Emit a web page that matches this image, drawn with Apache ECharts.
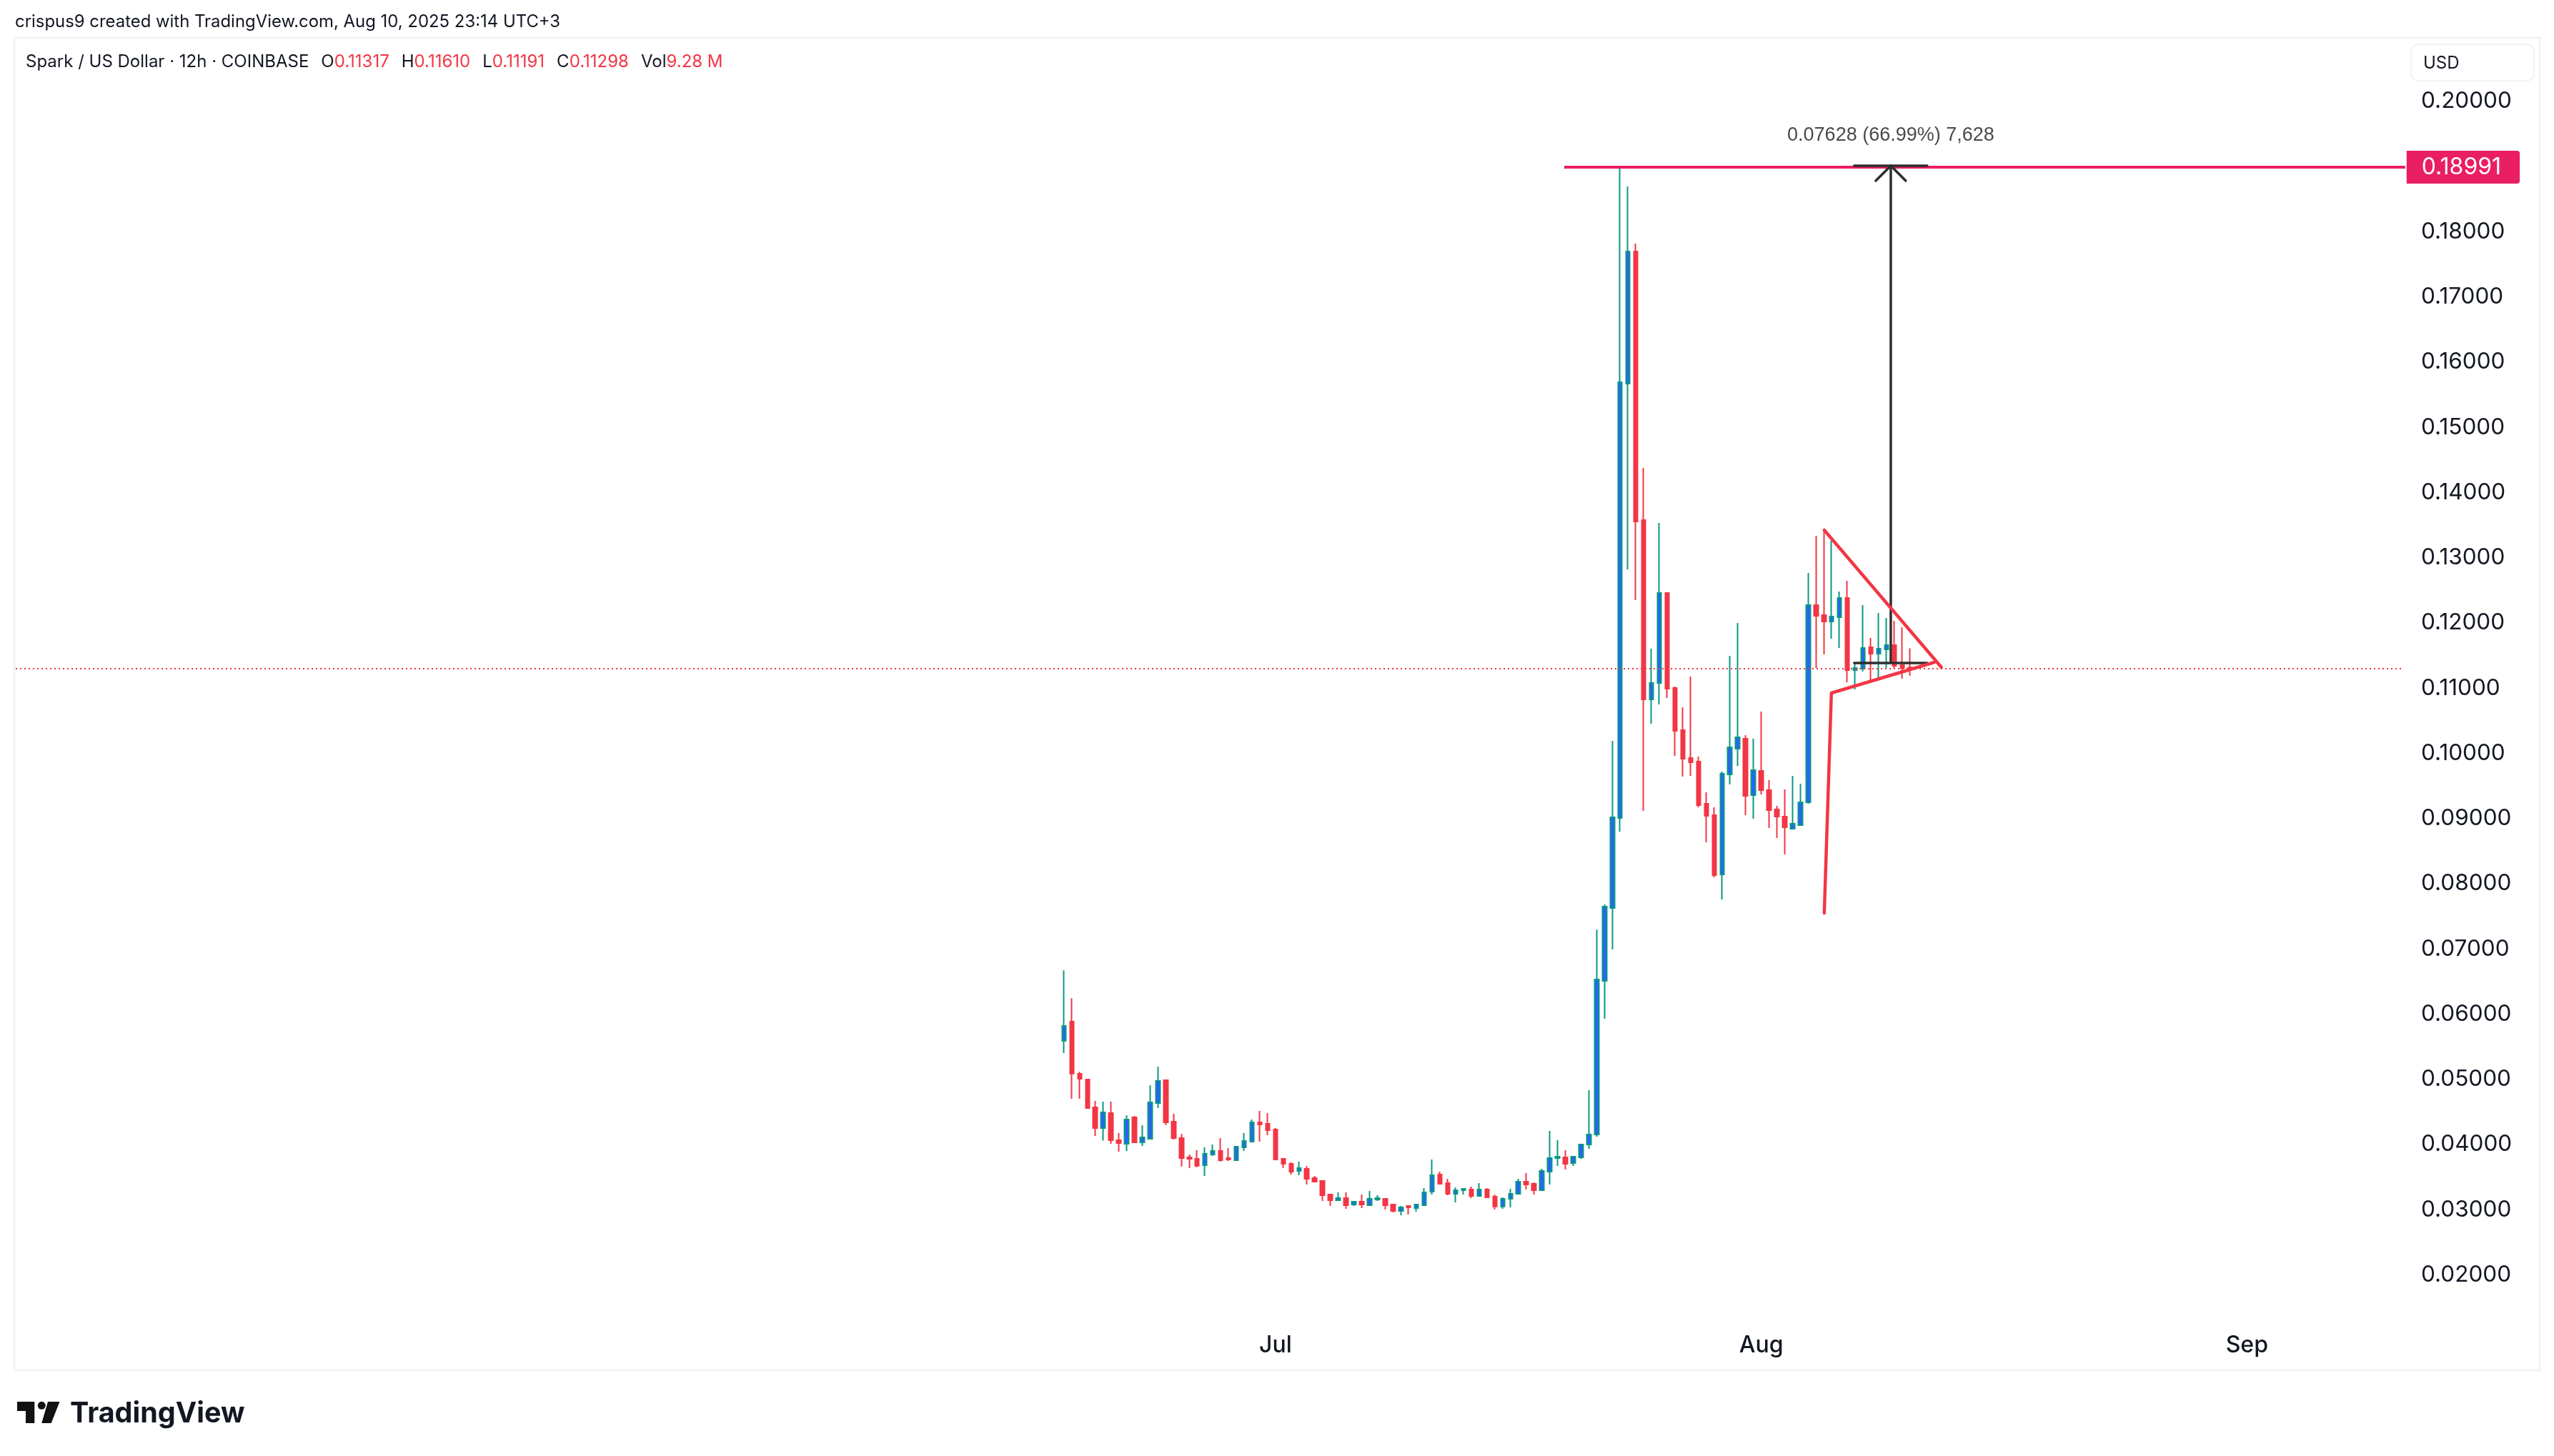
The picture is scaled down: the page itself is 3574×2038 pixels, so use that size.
<!DOCTYPE html>
<html>
<head>
<meta charset="utf-8">
<title>Spark / US Dollar</title>
<style>
html, body { margin: 0; padding: 0; width: 100%; height: 100%; background: #fff; }
#chart { width: 100%; height: 100%; }
</style>
<script src="https://cdn.jsdelivr.net/npm/echarts@6/dist/echarts.min.js"></script>
</head>
<body>
<div id="chart"></div>
<script>
// 12h candles from the first bar on, one row each: open, close, low, high
var firstCandle = '2025-06-17T12:00:00Z';
var candleValues = [
	[.05593,.05819,.05403,.06671],[.05886,.05089,.04701,.06243],[.05085,.05009,.04701,.05114],[.04998,.04559,.04548,.05009],
	[.04570,.04253,.04132,.04668],[.04253,.04494,.04059,.04658],[.04483,.04066,.04012,.04658],[.04066,.04023,.03891,.04175],
	[.04012,.04384,.03902,.04450],[.04417,.04034,.04023,.04439],[.04034,.04110,.03979,.04296],[.04088,.04647,.04077,.04909],
	[.04636,.04976,.04559,.05195],[.04987,.04340,.04296,.04987],[.04351,.04099,.04077,.04472],[.04099,.03793,.03662,.04165],
	[.03803,.03782,.03639,.03847],[.03782,.03673,.03651,.03913],[.03682,.03858,.03519,.03956],[.03847,.03902,.03825,.04001],
	[.03902,.03760,.03738,.04099],[.03793,.03771,.03749,.03945],[.03760,.03968,.03749,.03979],[.03956,.04055,.03902,.04175],
	[.04045,.04340,.04045,.04384],[.04340,.04307,.04045,.04516],[.04318,.04219,.04143,.04483],[.04230,.03771,.03771,.04253],
	[.03782,.03705,.03639,.03782],[.03705,.03584,.03541,.03727],[.03595,.03639,.03530,.03738],[.03628,.03474,.03387,.03672],
	[.03485,.03431,.03420,.03519],[.03441,.03222,.03135,.03452],[.03233,.03146,.03058,.03244],[.03146,.03179,.03146,.03266],
	[.03179,.03069,.03014,.03266],[.03080,.03124,.03058,.03135],[.03124,.03080,.03025,.03233],[.03069,.03168,.03069,.03288],
	[.03157,.03179,.03135,.03222],[.03168,.03069,.03003,.03179],[.03080,.02981,.02959,.03091],[.02981,.03036,.02916,.03058],
	[.03058,.03036,.02927,.03069],[.03025,.03080,.02970,.03091],[.03069,.03266,.03069,.03331],[.03277,.03529,.03233,.03770],
	[.03540,.03397,.03386,.03583],[.03408,.03244,.03222,.03474],[.03244,.03299,.03113,.03342],[.03299,.03320,.03233,.03331],
	[.03310,.03211,.03179,.03353],[.03211,.03310,.03200,.03408],[.03310,.03189,.03179,.03331],[.03200,.03048,.03003,.03233],
	[.03048,.03168,.03014,.03189],[.03168,.03244,.03037,.03320],[.03244,.03431,.03244,.03474],[.03431,.03387,.03310,.03561],
	[.03397,.03299,.03233,.03420],[.03299,.03595,.03299,.03628],[.03584,.03793,.03387,.04209],[.03793,.03814,.03672,.04066],
	[.03803,.03705,.03617,.03913],[.03716,.03814,.03672,.03825],[.03803,.04001,.03782,.04012],[.04001,.04154,.03935,.04833],
	[.04154,.06531,.04121,.07297],[.06509,.07650,.05929,.07683],[.07628,.09019,.06991,.10191],[.09008,.15693,.08800,.18991],
	[.15671,.17698,.12822,.18695],[.17698,.13556,.12351,.17819],[.13578,.10827,.09118,.14378],[.10827,.11079,.10455,.11606],
	[.11079,.12460,.10751,.13534],[.12460,.10992,.10849,.12460],[.11003,.10345,.09961,.11024],[.10356,.09917,.09644,.10707],
	[.09928,.09863,.09654,.11178],[.09874,.09205,.09172,.09950],[.09227,.09041,.08636,.09403],[.09051,.08132,.08098,.09172],
	[.08143,.09687,.07759,.09720],[.09676,.10093,.09523,.11496],[.10071,.10247,.09806,.11999],[.10225,.09348,.09051,.10279],
	[.09359,.09742,.08997,.10225],[.09731,.09435,.09370,.10641],[.09435,.09129,.08855,.09589],[.09140,.09030,.08701,.09194],
	[.09030,.08866,.08449,.09446],[.08844,.08920,.08833,.09654],[.08899,.09249,.08899,.09535],[.09249,.12274,.09227,.12767],
	[.12274,.12110,.11309,.13337],[.12121,.12021,.11517,.13425],[.12021,.12099,.11758,.13260],[.12087,.12383,.11617,.12482],
	[.12383,.11276,.11090,.12646],[.11276,.11309,.10981,.11376],[.11298,.11617,.11255,.12274],[.11627,.11528,.11113,.11769],
	[.11528,.11606,.11156,.12153],[.11595,.11660,.11309,.12077],[.11660,.11342,.11309,.12032],[.11353,.11309,.11145,.11934],
	[.11317,.11298,.11191,.11610]
];

var priceTicks = [0.2, 0.18, 0.17, 0.16, 0.15, 0.14, 0.13, 0.12, 0.11, 0.1, 0.09, 0.08, 0.07, 0.06, 0.05, 0.04, 0.03, 0.02];
var monthTicks = ['2025-07-01T00:00:00Z', '2025-08-01T00:00:00Z', '2025-09-01T00:00:00Z'];
var monthLabels = ['Jul', 'Aug', 'Sep'];

var timeStart = '2025-04-11T14:24:00Z', timeEnd = '2025-09-11T18:00:00Z';
var resistance = 0.18991, lastPrice = 0.11298;
var resistanceFrom = '2025-07-19T10:20:00Z', resistanceTo = '2025-09-11T02:24:00Z';
var lastPriceTo = '2025-09-11T00:30:00Z';

// drawings on the chart: [time, price]
var trendBreak = [['2025-08-05T00:36:00Z', .07551], ['2025-08-05T11:30:00Z', .10926], ['2025-08-12T01:12:00Z', .11397]];
var trendTop = [['2025-08-05T00:36:00Z', .13425], ['2025-08-12T12:00:00Z', .11321]];
var measureShaft = [['2025-08-09T06:30:00Z', .11386], ['2025-08-09T06:30:00Z', .19014]];
var measureHead = [['2025-08-08T07:27:00Z', .18784], ['2025-08-09T06:30:00Z', .19014], ['2025-08-10T05:20:00Z', .18784]];
var measureBase = [['2025-08-06T22:30:00Z', .11386], ['2025-08-11T14:10:00Z', .11386]];
var measureCap = [['2025-08-06T22:30:00Z', .19014], ['2025-08-11T14:10:00Z', .19014]];
var measureLabelAt = ['2025-08-09T06:30:00Z', .19474];
var measureText = '0.07628 (66.99%) 7,628';

var creditText = 'crispus9 created with TradingView.com, Aug 10, 2025 23:14 UTC+3';
var symbolText = 'Spark / US Dollar · 12h · COINBASE';
var legendNames = ['O', 'H', 'L', 'C', 'Vol'];
var legendValues = ['0.11317', '0.11610', '0.11191', '0.11298', '9.28 M'];

var UP_FILL = '#2962ff', UP_EDGE = '#089981', DOWN = '#f23645', TAG = '#e91e63', INK = '#131722', PEN = '#2e2e2e';
var FONT = 'Inter';

function ts(s) {
	return +new Date(s);
}

function stamp(rows) {
	return rows.map(function (r) { return [ts(r[0]), r[1]]; });
}

function drawing(rows, color, width) {
	return {
		type: 'line', data: stamp(rows), showSymbol: false, animation: false, silent: true,
		lineStyle: { color: color, width: width, cap: 'round', join: 'round' }
	};
}

var t0 = ts(firstCandle);
var candleData = candleValues.map(function (row, i) {
	return [t0 + i * 12 * 3600 * 1000].concat(row);
});
var monthStamps = monthTicks.map(ts);

var legendText = '{sym|' + symbolText + '}' + legendNames.map(function (n, i) {
	return '{name|' + n + '}{val|' + legendValues[i] + '}';
}).join('');

var chart = echarts.init(document.getElementById('chart'));

chart.setOption({
	backgroundColor: '#fff',
	animation: false,
	title: [
		{ text: creditText, left: 21, top: 19, padding: 0, textStyle: { fontFamily: FONT, fontSize: 23.9, fontWeight: 400, color: INK } },
		{
			text: legendText, left: 36, top: 75, padding: 0,
			textStyle: {
				fontWeight: 400,
				rich: {
					sym: { fontFamily: FONT, fontSize: 24, fontWeight: 400, color: INK },
					name: { fontFamily: FONT, fontSize: 24, fontWeight: 400, color: INK, padding: [0, 0, 0, 17] },
					val: { fontFamily: FONT, fontSize: 24, fontWeight: 400, color: DOWN }
				}
			}
		},
		{ text: 'TradingView', left: 98, top: 1959, padding: 0, textStyle: { fontFamily: FONT, fontSize: 39.5, fontWeight: 700, color: INK } }
	],
	graphic: [
		{ type: 'rect', silent: true, z: -1, shape: { x: 20, y: 53, width: 3534, height: 1865 }, style: { fill: '#fff', stroke: '#f3f3f3', lineWidth: 3 } },
		{ type: 'rect', silent: true, shape: { x: 3374, y: 62, width: 172, height: 51, r: 10 }, style: { fill: '#fff', stroke: '#f3f3f3', lineWidth: 2 } },
		{ type: 'text', silent: true, style: { x: 3391, y: 77, text: 'USD', fill: INK, font: '24px Inter' } },
		{ type: 'polygon', silent: true, shape: { points: [[24, 1962], [48.3, 1962], [48.3, 1992], [36, 1992], [36, 1975], [24, 1975]] }, style: { fill: '#111' } },
		{ type: 'circle', silent: true, shape: { cx: 58.3, cy: 1967.3, r: 5.5 }, style: { fill: '#111' } },
		{ type: 'polygon', silent: true, shape: { points: [[67, 1962], [83.5, 1962], [71.7, 1992], [58.3, 1992]] }, style: { fill: '#111' } }
	],
	grid: { left: 22, right: 194, top: 50.75, bottom: 180.5 },
	xAxis: {
		type: 'value',
		min: ts(timeStart),
		max: ts(timeEnd),
		axisLine: { show: false },
		axisTick: { show: false },
		splitLine: { show: false },
		axisLabel: {
			customValues: monthStamps,
			formatter: function (v) { return monthLabels[monthStamps.indexOf(v)]; },
			fontFamily: FONT, fontSize: 32, fontWeight: 500, color: INK, margin: 10
		}
	},
	yAxis: {
		type: 'value',
		position: 'right',
		min: 0.012,
		max: 0.21,
		axisLine: { show: false },
		axisTick: { show: false },
		splitLine: { show: false },
		axisLabel: {
			customValues: priceTicks,
			formatter: function (v) { return v.toFixed(5); },
			fontFamily: FONT, fontSize: 31.5, color: INK, margin: 8, padding: [5, 0, 0, 0]
		}
	},
	series: [
		{
			type: 'line', data: stamp([[timeStart, lastPrice], [lastPriceTo, lastPrice]]), showSymbol: false, animation: false, silent: true,
			lineStyle: { color: DOWN, width: 2, type: [2, 4] }
		},
		{
			type: 'candlestick',
			data: candleData,
			encode: { x: 0, y: [1, 2, 3, 4] },
			barWidth: 6,
			animation: false,
			silent: true,
			itemStyle: { color: UP_FILL, color0: DOWN, borderColor: UP_EDGE, borderColor0: DOWN, borderWidth: 2 }
		},
		{
			type: 'line',
			data: stamp([[resistanceFrom, resistance], [resistanceTo, resistance]]),
			showSymbol: false, animation: false, silent: true,
			lineStyle: { color: TAG, width: 4 },
			endLabel: {
				show: true,
				distance: 2,
				formatter: function () { return resistance.toFixed(5); },
				fontFamily: FONT, fontSize: 32, lineHeight: 30, color: '#fff',
				backgroundColor: TAG, padding: [8, 26, 8, 21], borderRadius: [0, 4, 4, 0]
			}
		},
		drawing(measureShaft, PEN, 3.5),
		drawing(measureHead, PEN, 3.5),
		drawing(measureBase, PEN, 3.5),
		drawing(measureCap, PEN, 3.5),
		drawing(trendBreak, DOWN, 4.5),
		drawing(trendTop, DOWN, 4.5),
		{
			type: 'scatter',
			data: [[ts(measureLabelAt[0]), measureLabelAt[1]]],
			symbolSize: 1,
			animation: false,
			silent: true,
			itemStyle: { color: 'transparent' },
			label: {
				show: true, position: 'inside',
				formatter: measureText,
				fontFamily: 'Liberation Sans', fontSize: 27, color: '#1a1a1a'
			}
		}
	]
});

window.addEventListener('resize', function () { chart.resize(); });
</script>
</body>
</html>
